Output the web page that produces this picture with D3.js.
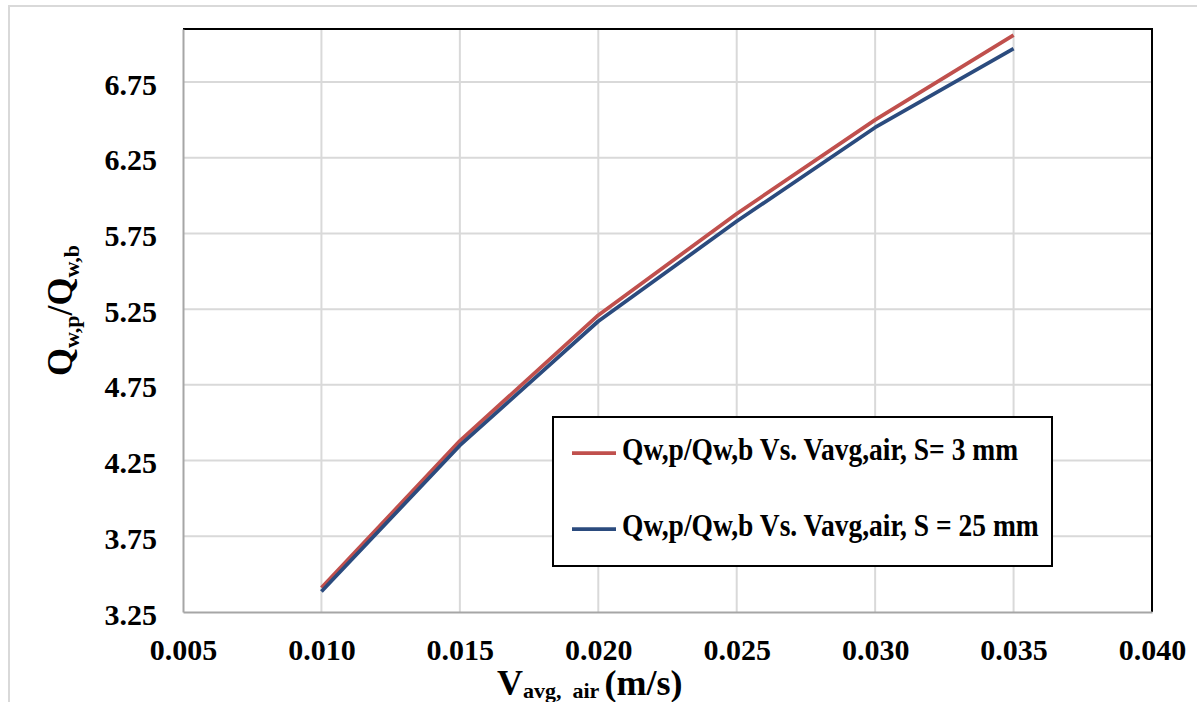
<!DOCTYPE html>
<html>
<head>
<meta charset="utf-8">
<script src="https://cdn.jsdelivr.net/npm/d3@7"></script>
<style>
  html, body { margin: 0; padding: 0; background: #fff; }
  svg { display: block; }
  svg text { font-family: "Liberation Serif", "Times New Roman", serif !important; font-weight: bold; fill: #000; }
</style>
</head>
<body>
<svg id="chart" width="1197" height="702"></svg>
<script>
// ---- data ----
const xValues = [0.010, 0.015, 0.020, 0.025, 0.030, 0.035];
const seriesS3 = [3.41, 4.38, 5.21, 5.88, 6.50, 7.06];
const seriesS25 = [3.385, 4.35, 5.17, 5.83, 6.45, 6.97];
const xTicks = [0.005, 0.010, 0.015, 0.020, 0.025, 0.030, 0.035, 0.040];
const yTicks = [3.25, 3.75, 4.25, 4.75, 5.25, 5.75, 6.25, 6.75];
const seriesNames = ["Qw,p/Qw,b Vs. Vavg,air, S= 3 mm", "Qw,p/Qw,b Vs. Vavg,air, S = 25 mm"];
const seriesColors = ["#c0504d", "#2b4b7e"];

const svg = d3.select("#chart");
const W = 1197, H = 702;
const plot = { left: 183, right: 1152, top: 29, bottom: 612 };
const FONT = "'Liberation Serif', 'Times New Roman', serif";

// outer frame
svg.append("path")
  .attr("d", `M9,${H + 2} L9,6 L${W + 2},6`)
  .attr("fill", "none").attr("stroke", "#d9d9d9").attr("stroke-width", 2);

const x = d3.scaleLinear().domain([0.005, 0.040]).range([plot.left, plot.right]);
const y = d3.scaleLinear().domain([3.25, 7.1]).range([plot.bottom, plot.top]);

// gridlines
const grid = svg.append("g");
grid.selectAll("line.vx").data(xTicks.slice(1, -1)).enter().append("line")
  .attr("x1", d => x(d)).attr("x2", d => x(d))
  .attr("y1", plot.top).attr("y2", plot.bottom)
  .attr("stroke", "#d9d9d9").attr("stroke-width", 2);
grid.selectAll("line.hy").data(yTicks.slice(1)).enter().append("line")
  .attr("x1", plot.left).attr("x2", plot.right)
  .attr("y1", d => y(d)).attr("y2", d => y(d))
  .attr("stroke", "#d9d9d9").attr("stroke-width", 2);

// plot border (top, right black)
svg.append("path")
  .attr("d", `M${plot.left},${plot.top} L${plot.right},${plot.top} L${plot.right},${plot.bottom}`)
  .attr("fill", "none").attr("stroke", "#000").attr("stroke-width", 2);

// axes
const xAxis = d3.axisBottom(x).tickValues(xTicks).tickSize(0).tickPadding(0)
  .tickFormat(d3.format(".3f"));
const gx = svg.append("g").attr("transform", `translate(0,${plot.bottom})`).call(xAxis)
  .attr("font-family", FONT).attr("font-weight", "bold").attr("font-size", 30);
gx.select(".domain").attr("stroke", "#a6a6a6").attr("stroke-width", 2);
gx.selectAll("text").attr("y", 48).attr("dy", null).attr("fill", "#000");

const yAxis = d3.axisLeft(y).tickValues(yTicks).tickSize(0).tickPadding(0)
  .tickFormat(d3.format(".2f"));
const gy = svg.append("g").attr("transform", `translate(${plot.left},0)`).call(yAxis)
  .attr("font-family", FONT).attr("font-weight", "bold").attr("font-size", 30);
gy.select(".domain").attr("stroke", "#a6a6a6").attr("stroke-width", 2);
gy.selectAll("text").attr("x", -26).attr("dy", "0.4em").attr("fill", "#000");
svg.selectAll(".tick line").remove();

// series lines
const line = d3.line().x(d => x(d[0])).y(d => y(d[1]));
[seriesS3, seriesS25].forEach((s, i) => {
  svg.append("path")
    .datum(xValues.map((v, j) => [v, s[j]]))
    .attr("d", line)
    .attr("fill", "none")
    .attr("stroke", seriesColors[i])
    .attr("stroke-width", 3.75)
    .attr("stroke-linejoin", "round");
});

// legend
const lg = svg.append("g");
lg.append("rect").attr("x", 553).attr("y", 417).attr("width", 499).attr("height", 149)
  .attr("fill", "#fff").attr("stroke", "#000").attr("stroke-width", 2);
const legendRows = [453, 529];
seriesNames.forEach((name, i) => {
  lg.append("line").attr("x1", 572).attr("x2", 616)
    .attr("y1", legendRows[i]).attr("y2", legendRows[i])
    .attr("stroke", seriesColors[i]).attr("stroke-width", 3.75);
  lg.append("text")
    .attr("transform", `translate(622,${legendRows[i] + 7}) scale(1,1.15)`)
    .attr("font-size", 27.5)
    .attr("xml:space", "preserve")
    .text(name);
});

// x axis title
const xt = svg.append("text").attr("x", 497).attr("y", 695).attr("font-size", 36)
  .attr("xml:space", "preserve");
xt.append("tspan").text("V");
xt.append("tspan").attr("font-size", 22).attr("dy", 3).text("avg,  air ");
xt.append("tspan").attr("dy", -3).text("(m/s)");

// y axis title
const yt = svg.append("text")
  .attr("transform", "translate(72,376) rotate(-90)")
  .attr("font-size", 36);
yt.append("tspan").text("Q");
yt.append("tspan").attr("font-size", 22).attr("dy", 7).text("w,p");
yt.append("tspan").attr("dy", -7).text("/Q");
yt.append("tspan").attr("font-size", 22).attr("dy", 7).text("w,b");
</script>
</body>
</html>
